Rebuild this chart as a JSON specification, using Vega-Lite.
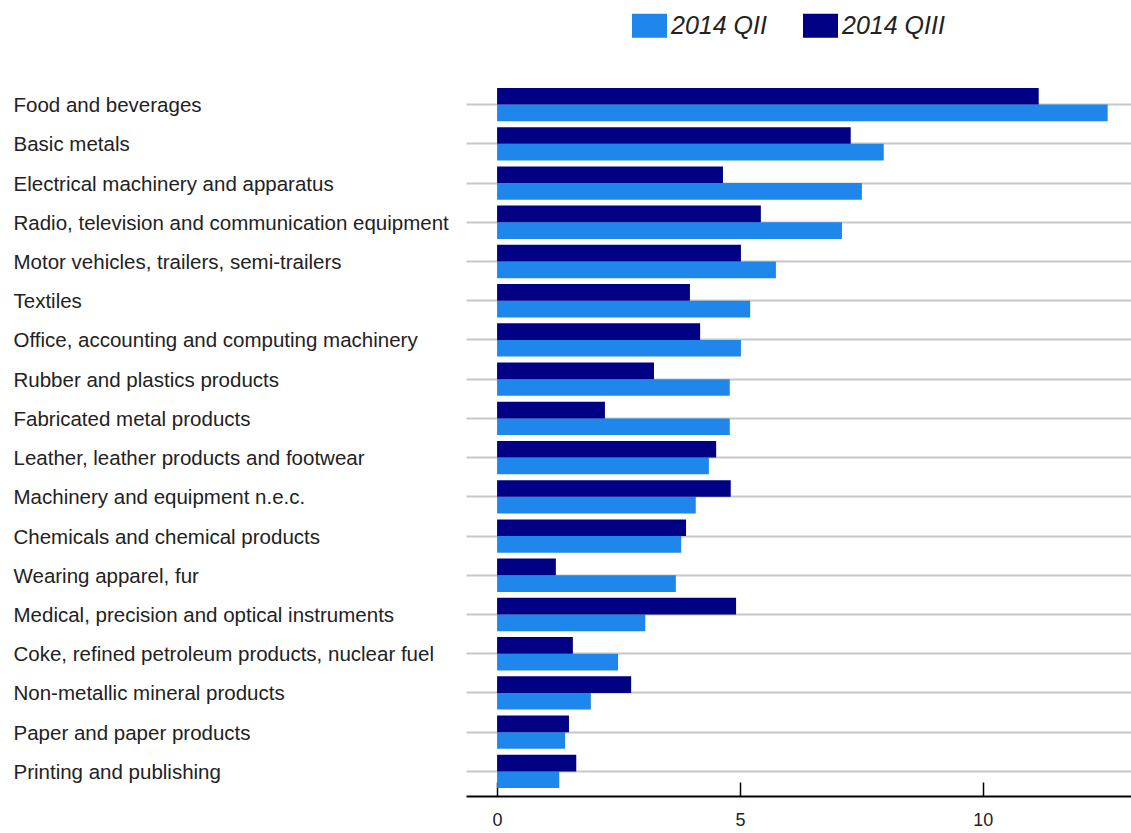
{
  "$schema": "https://vega.github.io/schema/vega-lite/v6.json",
  "width": 665,
  "height": 706,
  "autosize": "none",
  "padding": {"left": 466, "top": 85, "right": 0, "bottom": 42},
  "background": "white",
  "config": {"view": {"stroke": null}, "font": "Liberation Sans"},
  "data": {"values": [
    {"sector": "Food and beverages", "period": "2014 QII", "value": 12.57},
    {"sector": "Food and beverages", "period": "2014 QIII", "value": 11.15},
    {"sector": "Basic metals", "period": "2014 QII", "value": 7.96},
    {"sector": "Basic metals", "period": "2014 QIII", "value": 7.28},
    {"sector": "Electrical machinery and apparatus", "period": "2014 QII", "value": 7.51},
    {"sector": "Electrical machinery and apparatus", "period": "2014 QIII", "value": 4.65},
    {"sector": "Radio, television and communication equipment", "period": "2014 QII", "value": 7.10},
    {"sector": "Radio, television and communication equipment", "period": "2014 QIII", "value": 5.43},
    {"sector": "Motor vehicles, trailers, semi-trailers", "period": "2014 QII", "value": 5.74},
    {"sector": "Motor vehicles, trailers, semi-trailers", "period": "2014 QIII", "value": 5.02},
    {"sector": "Textiles", "period": "2014 QII", "value": 5.21},
    {"sector": "Textiles", "period": "2014 QIII", "value": 3.97},
    {"sector": "Office, accounting and computing machinery", "period": "2014 QII", "value": 5.02},
    {"sector": "Office, accounting and computing machinery", "period": "2014 QIII", "value": 4.18},
    {"sector": "Rubber and plastics products", "period": "2014 QII", "value": 4.79},
    {"sector": "Rubber and plastics products", "period": "2014 QIII", "value": 3.23},
    {"sector": "Fabricated metal products", "period": "2014 QII", "value": 4.79},
    {"sector": "Fabricated metal products", "period": "2014 QIII", "value": 2.22},
    {"sector": "Leather, leather products and footwear", "period": "2014 QII", "value": 4.36},
    {"sector": "Leather, leather products and footwear", "period": "2014 QIII", "value": 4.51},
    {"sector": "Machinery and equipment n.e.c.", "period": "2014 QII", "value": 4.09},
    {"sector": "Machinery and equipment n.e.c.", "period": "2014 QIII", "value": 4.81},
    {"sector": "Chemicals and chemical products", "period": "2014 QII", "value": 3.79},
    {"sector": "Chemicals and chemical products", "period": "2014 QIII", "value": 3.89},
    {"sector": "Wearing apparel, fur", "period": "2014 QII", "value": 3.68},
    {"sector": "Wearing apparel, fur", "period": "2014 QIII", "value": 1.21},
    {"sector": "Medical, precision and optical instruments", "period": "2014 QII", "value": 3.05},
    {"sector": "Medical, precision and optical instruments", "period": "2014 QIII", "value": 4.92},
    {"sector": "Coke, refined petroleum products, nuclear fuel", "period": "2014 QII", "value": 2.49},
    {"sector": "Coke, refined petroleum products, nuclear fuel", "period": "2014 QIII", "value": 1.56},
    {"sector": "Non-metallic mineral products", "period": "2014 QII", "value": 1.93},
    {"sector": "Non-metallic mineral products", "period": "2014 QIII", "value": 2.76},
    {"sector": "Paper and paper products", "period": "2014 QII", "value": 1.40},
    {"sector": "Paper and paper products", "period": "2014 QIII", "value": 1.48},
    {"sector": "Printing and publishing", "period": "2014 QII", "value": 1.28},
    {"sector": "Printing and publishing", "period": "2014 QIII", "value": 1.63}
  ]},
  "mark": {"type": "bar"},
  "encoding": {
    "y": {
      "field": "sector", "type": "nominal", "sort": null,
      "scale": {"paddingInner": 0.15, "paddingOuter": 0.075},
      "axis": {"title": null, "ticks": false, "domain": false, "grid": true, "gridColor": "#c8c8c8", "gridWidth": 2, "bandPosition": 0.5,
        "labelAlign": "left", "labelPadding": 453, "labelFontSize": 20.5, "labelColor": "#222", "labelLimit": 0, "labelOffset": 1.5}
    },
    "yOffset": {"field": "period", "type": "nominal", "sort": ["2014 QIII", "2014 QII"], "scale": {"paddingInner": 0, "paddingOuter": 0}},
    "x": {
      "field": "value", "type": "quantitative",
      "scale": {"domain": [-0.64, 13.05], "nice": false, "zero": false},
      "axis": {"title": null, "values": [0, 5, 10], "grid": false, "domainColor": "#000", "domainWidth": 2, "tickColor": "#000", "tickSize": -14, "tickWidth": 1.5, "labelPadding": 29, "labelFontSize": 18, "labelColor": "#222", "offset": 5}
    },
    "color": {
      "field": "period", "type": "nominal",
      "scale": {"domain": ["2014 QII", "2014 QIII"], "range": ["#1f87eb", "#000085"]},
      "legend": {"orient": "none", "legendX": 166, "legendY": -77, "direction": "horizontal", "title": null,
        "symbolType": "M-1,-0.69H1V0.69H-1Z", "symbolSize": 1225, "symbolStrokeWidth": 0, "symbolOpacity": 1,
        "labelFontSize": 25, "labelFontStyle": "italic", "labelColor": "#222", "columnPadding": 36, "labelOffset": 4}
    }
  }
}
